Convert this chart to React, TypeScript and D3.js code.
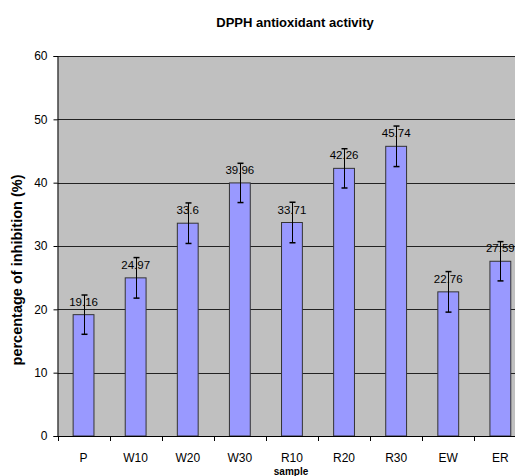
import React, { useEffect, useRef } from 'react';
import * as d3 from 'd3';

const samples = ['P', 'W10', 'W20', 'W30', 'R10', 'R20', 'R30', 'EW', 'ER'];
const inhibition = [19.16, 24.97, 33.6, 39.96, 33.71, 42.26, 45.74, 22.76, 27.59];
const errors = [3.1, 3.2, 3.2, 3.1, 3.2, 3.1, 3.2, 3.2, 3.1];
const yTicks = [0, 10, 20, 30, 40, 50, 60];

const FONT = "'Liberation Sans', Arial, sans-serif";

const App: React.FC = () => {
  const svgRef = useRef<SVGSVGElement>(null);
  const width = 515;
  const height = 476;

  useEffect(() => {
    if (!svgRef.current) return;
    const svg = d3.select(svgRef.current);
    svg.selectAll('*').remove();

    const left = 57.5;
    const top = 56;
    const bottom = 436;
    const bandW = 52.1;
    const right = left + bandW * samples.length;

    const x = d3.scaleBand<string>()
      .domain(samples)
      .range([left, right])
      .paddingInner(0.6)
      .paddingOuter(0.3);

    const y = d3.scaleLinear().domain([0, 60]).range([bottom, top]);

    // plot background
    svg.append('rect')
      .attr('x', left)
      .attr('y', top)
      .attr('width', right - left)
      .attr('height', bottom - top)
      .attr('fill', '#c0c0c0');

    // gridlines
    yTicks.filter(t => t > 0).forEach(t => {
      svg.append('line')
        .attr('x1', left)
        .attr('x2', right)
        .attr('y1', Math.round(y(t)) + 0.5)
        .attr('y2', Math.round(y(t)) + 0.5)
        .attr('stroke', '#222')
        .attr('stroke-width', 1);
    });

    // bars
    samples.forEach((s, i) => {
      svg.append('rect')
        .attr('x', x(s)!)
        .attr('y', y(inhibition[i]))
        .attr('width', x.bandwidth())
        .attr('height', bottom - y(inhibition[i]))
        .attr('fill', '#9999ff')
        .attr('stroke', '#333')
        .attr('stroke-width', 1);
    });

    // value labels
    samples.forEach((s, i) => {
      svg.append('text')
        .attr('x', x(s)! + x.bandwidth() / 2)
        .attr('y', y(inhibition[i]) - 9)
        .attr('text-anchor', 'middle')
        .attr('font-family', FONT)
        .attr('font-size', '11.5px')
        .attr('fill', '#000')
        .text(String(inhibition[i]));
    });

    // error bars
    samples.forEach((s, i) => {
      const cx = Math.round(x(s)! + x.bandwidth() / 2) + 0.5;
      const y1 = y(inhibition[i] + errors[i]);
      const y2 = y(inhibition[i] - errors[i]);
      svg.append('line')
        .attr('x1', cx).attr('x2', cx)
        .attr('y1', y1).attr('y2', y2)
        .attr('stroke', '#000').attr('stroke-width', 1);
      [y1, y2].forEach(yy => {
        svg.append('line')
          .attr('x1', cx - 3).attr('x2', cx + 3)
          .attr('y1', yy).attr('y2', yy)
          .attr('stroke', '#000').attr('stroke-width', 1.5);
      });
    });

    // y axis
    const yAxis = d3.axisLeft(y).tickValues(yTicks).tickSize(4).tickPadding(6);
    const yG = svg.append('g')
      .attr('transform', `translate(${left},0)`)
      .call(yAxis);
    yG.selectAll('text').attr('font-family', FONT).attr('font-size', '12px').attr('fill', '#000');
    yG.selectAll('line').attr('stroke', '#000');
    yG.select('path').attr('stroke', '#000');

    // x axis
    const xG = svg.append('g').attr('transform', `translate(0,${bottom})`);
    xG.append('line')
      .attr('x1', left).attr('x2', right)
      .attr('y1', 0.5).attr('y2', 0.5)
      .attr('stroke', '#000');
    d3.range(samples.length + 1).forEach(k => {
      const tx = Math.round(left + k * bandW) + 0.5;
      xG.append('line')
        .attr('x1', tx).attr('x2', tx)
        .attr('y1', 0).attr('y2', 5)
        .attr('stroke', '#000');
    });
    samples.forEach(s => {
      xG.append('text')
        .attr('x', x(s)! + x.bandwidth() / 2)
        .attr('y', 26)
        .attr('text-anchor', 'middle')
        .attr('font-family', FONT)
        .attr('font-size', '12px')
        .attr('fill', '#000')
        .text(s);
    });

    // axis titles
    svg.append('text')
      .attr('x', 291)
      .attr('y', 475)
      .attr('text-anchor', 'middle')
      .attr('font-family', FONT)
      .attr('font-weight', 'bold')
      .attr('font-size', '10px')
      .text('sample');

    svg.append('text')
      .attr('transform', `translate(22,270) rotate(-90)`)
      .attr('text-anchor', 'middle')
      .attr('font-family', FONT)
      .attr('font-weight', 'bold')
      .attr('font-size', '14.5px')
      .text('percentage of inhibition (%)');

    // title
    svg.append('text')
      .attr('x', 295)
      .attr('y', 27)
      .attr('text-anchor', 'middle')
      .attr('font-family', FONT)
      .attr('font-weight', 'bold')
      .attr('font-size', '13px')
      .text('DPPH antioxidant activity');
  }, []);

  return (
    <div style={{ position: 'absolute', left: 0, top: 0, width, height, overflow: 'hidden', background: '#fff' }}>
      <svg ref={svgRef} width={width} height={height} style={{ display: 'block' }} />
    </div>
  );
};

export default App;
